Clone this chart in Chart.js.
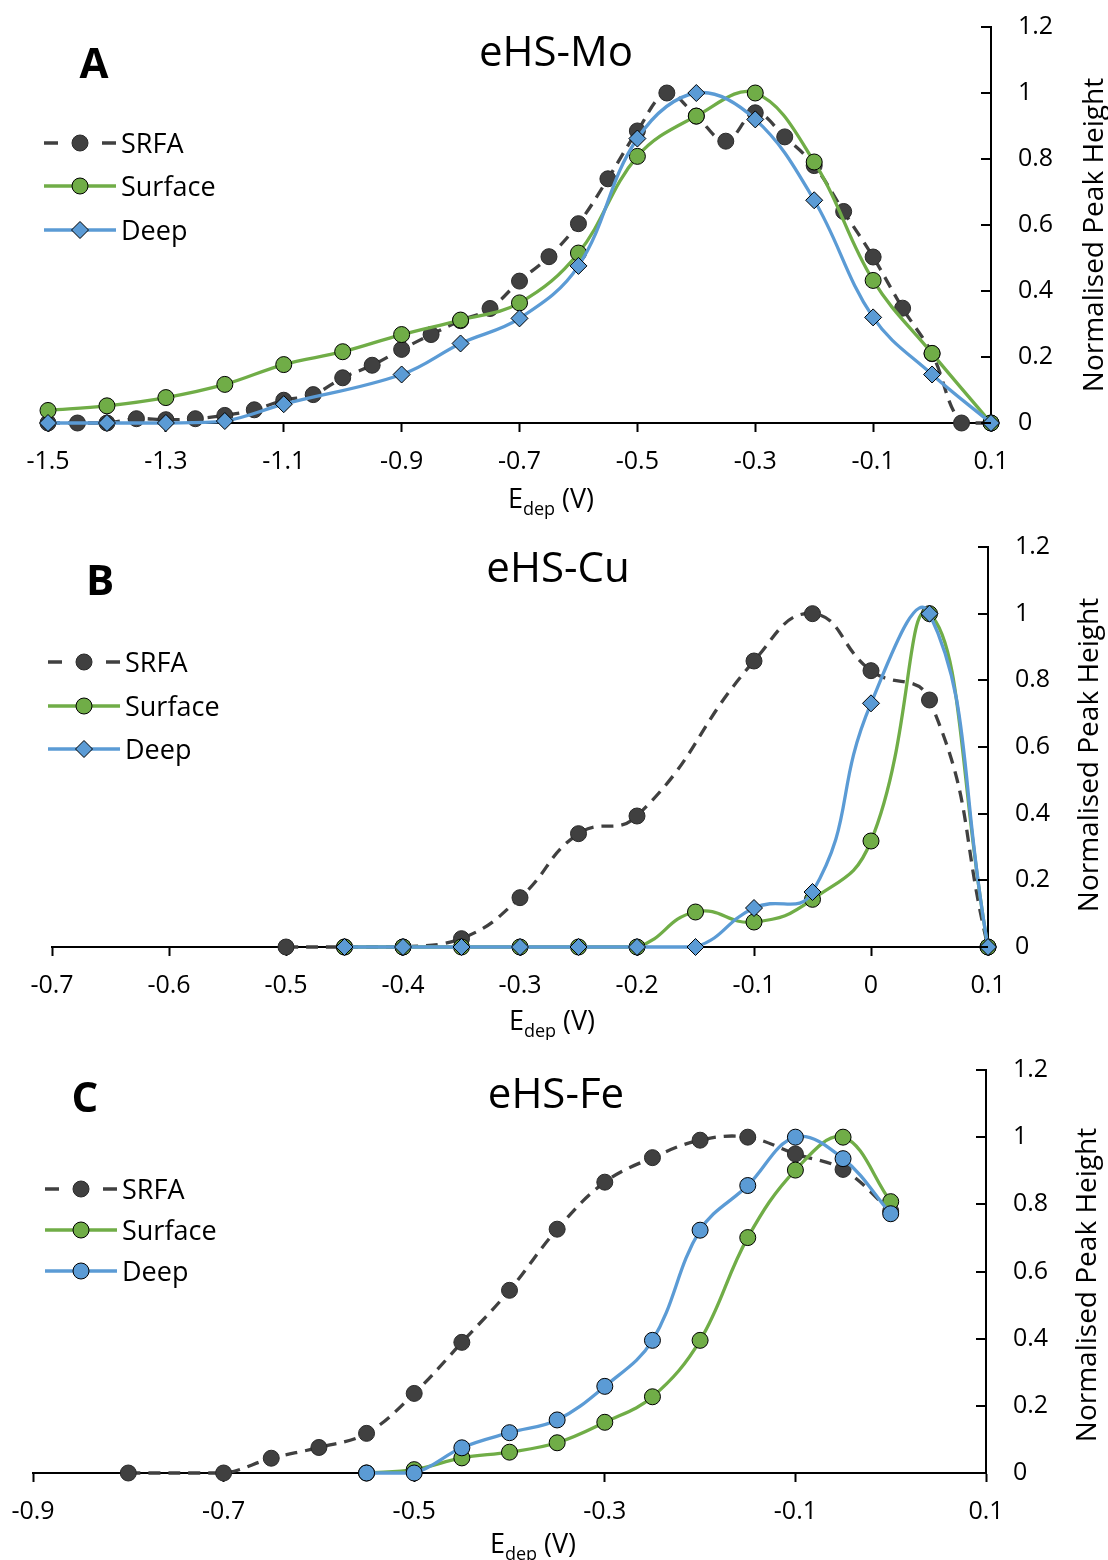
<!DOCTYPE html>
<html>
<head>
<meta charset="utf-8">
<script src="https://cdn.jsdelivr.net/npm/chart.js@4.4.1/dist/chart.umd.min.js"></script>
<style>
  html, body { margin: 0; padding: 0; background: #fff; }
  #wrap { position: relative; width: 1108px; height: 1560px; }
  canvas { position: absolute; left: 0; }
</style>
</head>
<body>
<div id="wrap">
  <canvas id="cMo" width="1108" height="520" style="top:0px"></canvas>
  <canvas id="cCu" width="1108" height="520" style="top:520px"></canvas>
  <canvas id="cFe" width="1108" height="520" style="top:1040px"></canvas>
</div>
<script>
// ---------- data: normalised peak height vs deposition potential ----------
const seriesNames = ['SRFA', 'Surface', 'Deep'];
const yTicks = [0, 0.2, 0.4, 0.6, 0.8, 1, 1.2];

// eHS-Mo
const xTicksMo = [-1.5, -1.3, -1.1, -0.9, -0.7, -0.5, -0.3, -0.1, 0.1];
const srfaMoX = [-1.5, -1.45, -1.4, -1.35, -1.3, -1.25, -1.2, -1.15, -1.1, -1.05, -1.0, -0.95, -0.9, -0.85, -0.8, -0.75, -0.7, -0.65, -0.6, -0.55, -0.5, -0.45, -0.4, -0.35, -0.3, -0.25, -0.2, -0.15, -0.1, -0.05, 0, 0.05, 0.1];
const srfaMoY = [0, 0, 0, 0.013, 0.01, 0.013, 0.023, 0.04, 0.069, 0.086, 0.137, 0.175, 0.223, 0.268, 0.31, 0.347, 0.43, 0.504, 0.604, 0.74, 0.885, 1.0, 0.93, 0.854, 0.94, 0.867, 0.78, 0.641, 0.503, 0.348, 0.21, 0, 0];
const surfMoX = [-1.5, -1.4, -1.3, -1.2, -1.1, -1.0, -0.9, -0.8, -0.7, -0.6, -0.5, -0.4, -0.3, -0.2, -0.1, 0, 0.1];
const surfMoY = [0.038, 0.052, 0.077, 0.117, 0.177, 0.216, 0.268, 0.312, 0.364, 0.515, 0.808, 0.93, 1.0, 0.791, 0.432, 0.211, 0];
const deepMoX = [-1.5, -1.4, -1.3, -1.2, -1.1, -0.9, -0.8, -0.7, -0.6, -0.5, -0.4, -0.3, -0.2, -0.1, 0, 0.1];
const deepMoY = [0, 0, 0, 0.006, 0.057, 0.147, 0.241, 0.317, 0.476, 0.862, 1.0, 0.92, 0.675, 0.32, 0.147, 0];

// eHS-Cu
const xTicksCu = [-0.7, -0.6, -0.5, -0.4, -0.3, -0.2, -0.1, 0, 0.1];
const srfaCuX = [-0.5, -0.45, -0.4, -0.35, -0.3, -0.25, -0.2, -0.1, -0.05, 0, 0.05, 0.1];
const srfaCuY = [0, 0, 0, 0.025, 0.148, 0.34, 0.393, 0.858, 1.0, 0.829, 0.741, 0];
const surfCuX = [-0.45, -0.4, -0.35, -0.3, -0.25, -0.2, -0.15, -0.1, -0.05, 0, 0.05, 0.1];
const surfCuY = [0, 0, 0, 0, 0, 0, 0.105, 0.075, 0.143, 0.318, 1.0, 0];
const deepCuX = [-0.45, -0.4, -0.35, -0.3, -0.25, -0.2, -0.15, -0.1, -0.05, 0, 0.05, 0.1];
const deepCuY = [0, 0, 0, 0, 0, 0, 0, 0.117, 0.165, 0.731, 1.0, 0];

// eHS-Fe
const xTicksFe = [-0.9, -0.7, -0.5, -0.3, -0.1, 0.1];
const srfaFeX = [-0.8, -0.7, -0.65, -0.6, -0.55, -0.5, -0.45, -0.4, -0.35, -0.3, -0.25, -0.2, -0.15, -0.1, -0.05, 0];
const srfaFeY = [0, 0, 0.044, 0.076, 0.118, 0.237, 0.389, 0.544, 0.726, 0.866, 0.939, 0.991, 1.0, 0.95, 0.904, 0.78];
const surfFeX = [-0.55, -0.5, -0.45, -0.4, -0.35, -0.3, -0.25, -0.2, -0.15, -0.1, -0.05, 0];
const surfFeY = [0, 0.01, 0.045, 0.062, 0.09, 0.151, 0.227, 0.395, 0.701, 0.902, 1.0, 0.808];
const deepFeX = [-0.55, -0.5, -0.45, -0.4, -0.35, -0.3, -0.25, -0.2, -0.15, -0.1, -0.05, 0];
const deepFeY = [0, 0, 0.075, 0.12, 0.158, 0.258, 0.395, 0.723, 0.856, 1.0, 0.936, 0.772];

// ---------- styling ----------
const FONT = '"Open Sans", "DejaVu Sans", sans-serif';
const DARK = '#404040';
const GREEN = '#70AD47';
const BLUE = '#5B9BD5';

function pts(xs, ys) { return xs.map((x, i) => ({ x: x, y: ys[i] })); }
function fmt(v) { return String(Math.round(v * 100) / 100); }

function drawMarker(ctx, style, x, y, r, fill, stroke, bw) {
  ctx.beginPath();
  if (style === 'rectRot') {
    ctx.moveTo(x - r, y); ctx.lineTo(x, y - r); ctx.lineTo(x + r, y); ctx.lineTo(x, y + r); ctx.closePath();
  } else {
    ctx.arc(x, y, r, 0, Math.PI * 2);
  }
  ctx.fillStyle = fill; ctx.fill();
  ctx.lineWidth = bw; ctx.strokeStyle = stroke; ctx.stroke();
}

// Titles, panel letter, legend, axis titles and inward value-axis ticks
const decor = {
  id: 'decor',
  afterDraw(chart, args, o) {
    const ctx = chart.ctx;
    const area = chart.chartArea;
    const ys = chart.scales.y;
    ctx.save();

    ctx.strokeStyle = '#000';
    ctx.lineWidth = 2;
    ys.ticks.forEach(t => {
      const py = Math.round(ys.getPixelForValue(t.value));
      ctx.beginPath();
      ctx.moveTo(area.right - 10, py);
      ctx.lineTo(area.right, py);
      ctx.stroke();
    });

    ctx.fillStyle = '#000';
    ctx.textAlign = 'center';
    ctx.textBaseline = 'alphabetic';
    ctx.font = '42px ' + FONT;
    ctx.fillText(o.title, o.titleX, o.titleY);
    ctx.font = 'bold 42px ' + FONT;
    ctx.fillText(o.letter, o.letterX, o.letterY);

    // legend
    chart.data.datasets.forEach((ds, i) => {
      const cy = o.legendY[i];
      const lx = o.legendX;
      ctx.save();
      ctx.strokeStyle = ds.borderColor;
      ctx.lineWidth = 3.3;
      if (ds.borderDash && ds.borderDash.length) ctx.setLineDash([14, 44]);
      ctx.beginPath();
      ctx.moveTo(lx, cy);
      ctx.lineTo(lx + 72, cy);
      ctx.stroke();
      ctx.restore();
      drawMarker(ctx, ds.pointStyle, lx + 36, cy, ds.pointRadius, ds.pointBackgroundColor, ds.pointBorderColor, ds.pointBorderWidth);
      ctx.fillStyle = '#000';
      ctx.textAlign = 'left';
      ctx.textBaseline = 'alphabetic';
      ctx.font = '27px ' + FONT;
      ctx.fillText(ds.label, lx + 77, cy + 10);
    });

    // x-axis title with subscript
    const big = '27px ' + FONT, small = '18px ' + FONT;
    ctx.font = big; const wE = ctx.measureText('E').width; const wV = ctx.measureText(' (V)').width;
    ctx.font = small; const wSub = ctx.measureText('dep').width;
    let x0 = o.xTitleX - (wE + wSub + wV) / 2;
    ctx.textAlign = 'left';
    ctx.font = big; ctx.fillText('E', x0, o.xTitleY);
    ctx.font = small; ctx.fillText('dep', x0 + wE, o.xTitleY + 7);
    ctx.font = big; ctx.fillText(' (V)', x0 + wE + wSub, o.xTitleY);

    // y-axis title, reading upward
    ctx.translate(o.yTitleX, o.yTitleY);
    ctx.rotate(-Math.PI / 2);
    ctx.textAlign = 'center';
    ctx.textBaseline = 'middle';
    ctx.font = '28px ' + FONT;
    ctx.fillText('Normalised Peak Height', 0, 0);
    ctx.restore();
  }
};

function makeChart(p) {
  const common = { fill: false, borderWidth: 3.3, tension: p.tension, clip: false };
  const datasets = [
    Object.assign({}, common, {
      label: seriesNames[0], data: pts(p.srfa[0], p.srfa[1]), order: 3,
      borderColor: DARK, borderDash: [12, 8],
      pointStyle: 'circle', pointRadius: 8, pointBackgroundColor: DARK, pointBorderColor: '#2a2a2a', pointBorderWidth: 1
    }),
    Object.assign({}, common, {
      label: seriesNames[1], data: pts(p.surf[0], p.surf[1]), order: 2,
      borderColor: GREEN,
      pointStyle: 'circle', pointRadius: 8, pointBackgroundColor: GREEN, pointBorderColor: '#000', pointBorderWidth: 1
    }),
    Object.assign({}, common, {
      label: seriesNames[2], data: pts(p.deep[0], p.deep[1]), order: 1,
      borderColor: BLUE,
      pointStyle: p.deepStyle, pointRadius: p.deepStyle === 'rectRot' ? 8.5 : 8,
      pointBackgroundColor: BLUE, pointBorderColor: '#000', pointBorderWidth: 1
    })
  ];
  return new Chart(document.getElementById(p.canvas), {
    type: 'line',
    data: { datasets: datasets },
    options: {
      responsive: false,
      animation: false,
      devicePixelRatio: 1,
      events: [],
      layout: { padding: { left: p.padLeft, top: p.padTop, right: 0, bottom: 0 } },
      scales: {
        x: {
          type: 'linear', position: 'bottom', min: p.xMin, max: p.xMax,
          afterBuildTicks: s => { s.ticks = p.xTicks.map(v => ({ value: v })); },
          afterFit: s => { s.height = p.xH; s.paddingLeft = 0; s.paddingRight = 0; },
          ticks: { font: { family: FONT, size: 25 }, color: '#000', padding: 15, maxRotation: 0, autoSkip: false, callback: v => fmt(v) },
          grid: { drawOnChartArea: false, drawTicks: true, tickLength: 9, tickWidth: 2, tickColor: '#000' },
          border: { display: true, color: '#000', width: 2 }
        },
        y: {
          type: 'linear', position: 'right', min: 0, max: 1.2,
          afterBuildTicks: s => { s.ticks = yTicks.map(v => ({ value: v })); },
          afterFit: s => { s.width = p.yW; s.paddingTop = 0; s.paddingBottom = 0; },
          ticks: { font: { family: FONT, size: 25 }, color: '#000', padding: 27, callback: v => fmt(v) },
          grid: { drawOnChartArea: false, drawTicks: false },
          border: { display: true, color: '#000', width: 2 }
        }
      },
      plugins: {
        legend: { display: false },
        tooltip: { enabled: false },
        decor: p.decor
      }
    },
    plugins: [decor]
  });
}

makeChart({
  canvas: 'cMo', xMin: -1.5, xMax: 0.1, xTicks: xTicksMo, tension: 0.38,
  srfa: [srfaMoX, srfaMoY], surf: [surfMoX, surfMoY], deep: [deepMoX, deepMoY], deepStyle: 'rectRot',
  padLeft: 48, padTop: 27, xH: 97, yW: 117,
  decor: { title: 'eHS-Mo', titleX: 556, titleY: 66, letter: 'A', letterX: 94, letterY: 78,
           legendX: 44, legendY: [143, 186, 230], xTitleX: 551, xTitleY: 508, yTitleX: 1095, yTitleY: 235 }
});

makeChart({
  canvas: 'cCu', xMin: -0.7, xMax: 0.1, xTicks: xTicksCu, tension: 0.48,
  srfa: [srfaCuX, srfaCuY], surf: [surfCuX, surfCuY], deep: [deepCuX, deepCuY], deepStyle: 'rectRot',
  padLeft: 52, padTop: 27, xH: 93, yW: 120,
  decor: { title: 'eHS-Cu', titleX: 558, titleY: 62, letter: 'B', letterX: 100, letterY: 75,
           legendX: 48, legendY: [142, 186, 229], xTitleX: 552, xTitleY: 510, yTitleX: 1090, yTitleY: 235 }
});

makeChart({
  canvas: 'cFe', xMin: -0.9, xMax: 0.1, xTicks: xTicksFe, tension: 0.38,
  srfa: [srfaFeX, srfaFeY], surf: [surfFeX, surfFeY], deep: [deepFeX, deepFeY], deepStyle: 'circle',
  padLeft: 33, padTop: 30, xH: 87, yW: 122,
  decor: { title: 'eHS-Fe', titleX: 556, titleY: 68, letter: 'C', letterX: 85, letterY: 72,
           legendX: 45, legendY: [149, 190, 231], xTitleX: 533, xTitleY: 513, yTitleX: 1088, yTitleY: 245 }
});
</script>
</body>
</html>
